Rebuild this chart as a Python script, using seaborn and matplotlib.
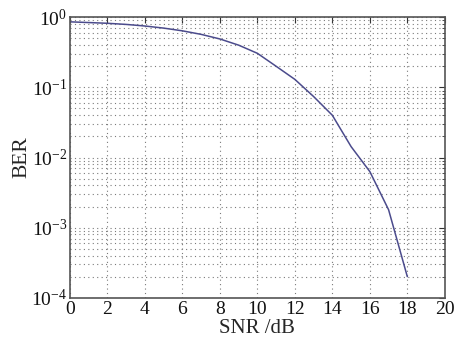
import numpy as np
import pandas as pd
import matplotlib
matplotlib.use("Agg")
import matplotlib.pyplot as plt
import seaborn as sns
from matplotlib.ticker import LogLocator, NullFormatter

snr_db = [0, 1, 2, 3, 4, 5, 6, 7, 8, 9, 10, 11, 12, 13, 14, 15, 16, 17, 18]
ber = [0.86, 0.84, 0.82, 0.79, 0.75, 0.70, 0.64, 0.57, 0.49, 0.40, 0.306,
       0.20, 0.13, 0.074, 0.040, 0.0143, 0.0063, 0.0018, 0.0002]
x_ticks = [0, 2, 4, 6, 8, 10, 12, 14, 16, 18, 20]

sns.set_style("white")
plt.rcParams['font.family'] = ['Liberation Serif', 'DejaVu Serif']
plt.rcParams['mathtext.fontset'] = 'stix'

df = pd.DataFrame({"SNR": snr_db, "BER": ber})

fig = plt.figure(figsize=(4.6, 3.38), dpi=100)
ax = fig.add_axes([0.152, 0.119, 0.815, 0.830])
sns.lineplot(data=df, x="SNR", y="BER", ax=ax, color="#4b4b8c", linewidth=1.1)
ax.set_yscale("log")
ax.set_xlim(0, 20)
ax.set_ylim(1e-4, 1)
ax.set_xticks(x_ticks)
ax.yaxis.set_major_locator(LogLocator(base=10, numticks=10))
ax.yaxis.set_minor_locator(LogLocator(base=10, subs=np.arange(2, 10), numticks=20))
ax.yaxis.set_minor_formatter(NullFormatter())
grid_kw = dict(linestyle=(0, (1, 3)), color="#7a7a7a", linewidth=0.8)
ax.grid(True, which="major", **grid_kw)
ax.grid(True, which="minor", axis="y", **grid_kw)
ax.tick_params(which="both", direction="in", top=True, right=True, labelsize=14, colors="#333333",
               labelcolor="#111111")
ax.tick_params(which="major", length=4, pad=2)
ax.tick_params(which="minor", length=2)
for s in ax.spines.values():
    s.set_color("#555555")
    s.set_linewidth(1.2)
ax.set_xlabel("SNR /dB", fontsize=15, labelpad=1)
ax.set_ylabel("BER", fontsize=15.5, labelpad=0)
fig.savefig("out.png", dpi=100)
